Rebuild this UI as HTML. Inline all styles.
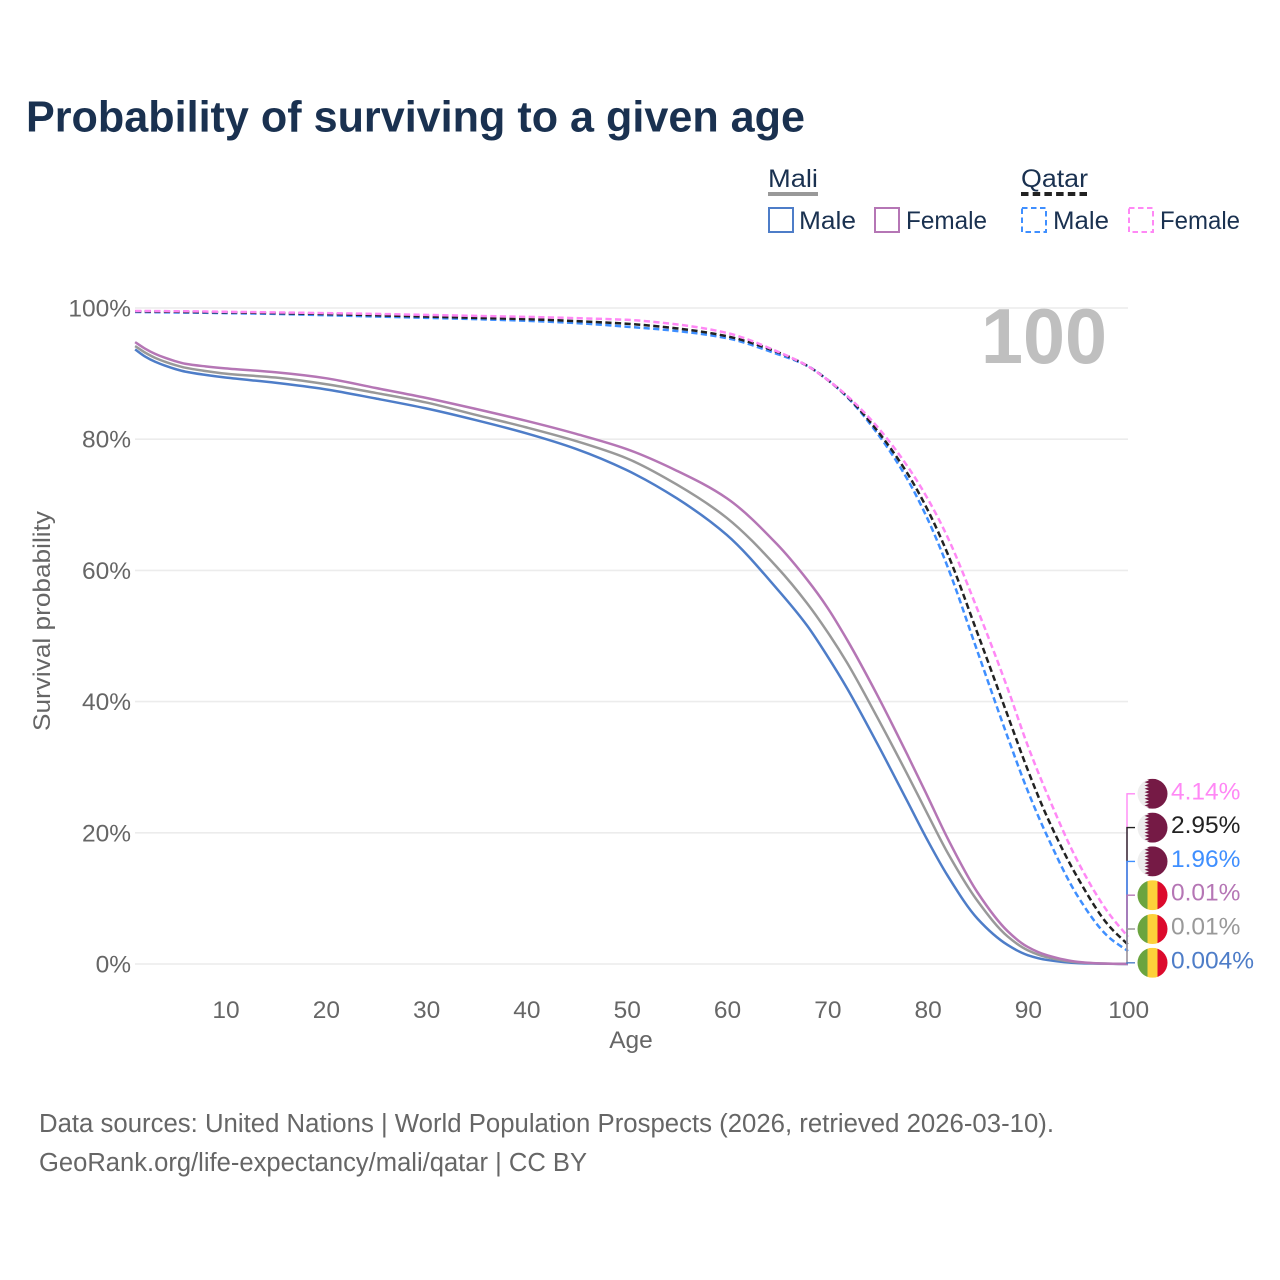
<!DOCTYPE html>
<html lang="en">
<head>
<meta charset="utf-8">
<title>Probability of surviving to a given age</title>
<style>
html,body{margin:0;padding:0;background:#fff;}
svg{display:block;font-family:"Liberation Sans",sans-serif;}
</style>
</head>
<body>
<svg id="chart" width="1280" height="1280" viewBox="0 0 1280 1280">
  <defs>
    <clipPath id="flag-clip"><circle cx="0" cy="0" r="15"></circle></clipPath>
  </defs>
  <text x="26" y="131.5" font-size="44" font-weight="700" fill="#1a3150" textLength="779" lengthAdjust="spacingAndGlyphs">Probability of surviving to a given age</text>

  <g>
    <text x="768" y="187" font-size="25" fill="#1a3150" textLength="50" lengthAdjust="spacingAndGlyphs">Mali</text>
    <line x1="768" y1="194" x2="818" y2="194" stroke="#999999" stroke-width="4"></line>
    <text x="1021" y="187" font-size="25" fill="#1a3150" textLength="67" lengthAdjust="spacingAndGlyphs">Qatar</text>
    <line x1="1021" y1="194" x2="1088" y2="194" stroke="#222222" stroke-width="4" stroke-dasharray="7.5 4.2"></line>

    <rect x="769" y="208" width="24" height="24" fill="none" stroke="#4e7dc8" stroke-width="2"></rect>
    <text x="799" y="229" font-size="25" fill="#1a3150" textLength="57" lengthAdjust="spacingAndGlyphs">Male</text>
    <rect x="875" y="208" width="24" height="24" fill="none" stroke="#b576b5" stroke-width="2"></rect>
    <text x="906" y="229" font-size="25" fill="#1a3150" textLength="81" lengthAdjust="spacingAndGlyphs">Female</text>

    <rect x="1022" y="208" width="24" height="24" fill="none" stroke="#3f8fff" stroke-width="2" stroke-dasharray="5.5 3.5"></rect>
    <text x="1053" y="229" font-size="25" fill="#1a3150" textLength="56" lengthAdjust="spacingAndGlyphs">Male</text>
    <rect x="1129" y="208" width="24" height="24" fill="none" stroke="#ff88f5" stroke-width="2" stroke-dasharray="5.5 3.5"></rect>
    <text x="1160" y="229" font-size="25" fill="#1a3150" textLength="80" lengthAdjust="spacingAndGlyphs">Female</text>
  </g>

  <g id="grid"></g>
  <g id="y-ticks"></g>
  <g id="x-ticks"></g>

  <text x="1044" y="363" font-size="78" font-weight="700" fill="#bfbfbf" text-anchor="middle" textLength="126" lengthAdjust="spacingAndGlyphs">100</text>

  <g id="series"></g>
  <g id="connectors"></g>
  <g id="end-labels"></g>

  <text x="631" y="1048" font-size="24.5" fill="#666666" text-anchor="middle">Age</text>
  <text transform="translate(50,621) rotate(-90)" font-size="24.5" fill="#666666" text-anchor="middle" textLength="220" lengthAdjust="spacingAndGlyphs">Survival probability</text>

  <text x="39" y="1132" font-size="25.5" fill="#666666" textLength="1015" lengthAdjust="spacingAndGlyphs">Data sources: United Nations | World Population Prospects (2026, retrieved 2026-03-10).</text>
  <text x="39" y="1171" font-size="25.5" fill="#666666" textLength="548" lengthAdjust="spacingAndGlyphs">GeoRank.org/life-expectancy/mali/qatar | CC BY</text>
</svg>

<script>
const ages = [1,2,3,4,5,6,8,10,15,20,25,30,35,40,45,50,55,60,65,68,70,72,75,78,80,82,85,88,90,92,95,98,100];
const maliMale = [93.7,92.6,91.8,91.2,90.7,90.3,89.8,89.4,88.6,87.6,86.2,84.7,82.9,80.9,78.5,75.3,71.0,65.4,57.2,51.6,47.0,42.0,33.6,24.8,18.9,13.5,6.9,2.9,1.35,0.6,0.13,0.03,0.004];
const maliBoth = [94.2,93.2,92.4,91.8,91.3,90.9,90.4,90.0,89.4,88.4,87.05,85.6,83.7,81.8,79.7,77.1,73.1,68.0,60.5,55.0,50.7,45.9,37.6,28.9,22.9,17.0,9.6,4.2,2.1,1.0,0.25,0.05,0.01];
const maliFemale = [94.8,93.8,93.0,92.4,91.9,91.5,91.1,90.8,90.2,89.3,87.8,86.3,84.6,82.8,80.8,78.5,75.2,71.0,64.0,58.6,54.4,49.4,41.0,31.9,25.6,19.2,10.9,5.0,2.6,1.3,0.33,0.05,0.01];
const qatarMale = [99.4,99.38,99.36,99.34,99.32,99.3,99.27,99.22,99.1,98.9,98.7,98.5,98.3,98.05,97.7,97.15,96.5,95.4,93.0,91.2,89.1,86.4,80.9,73.9,67.9,60.6,47.6,34.6,26.4,19.3,10.3,4.2,1.96];
const qatarBoth = [99.48,99.46,99.45,99.43,99.42,99.4,99.37,99.33,99.22,99.08,98.9,98.7,98.5,98.3,98.0,97.6,96.9,95.7,93.3,91.2,89.1,86.5,81.3,74.8,69.3,62.6,50.4,37.9,29.6,22.2,13.1,6.0,2.95];
const qatarFemale = [99.55,99.54,99.53,99.52,99.5,99.5,99.46,99.42,99.33,99.22,99.1,98.95,98.8,98.65,98.45,98.2,97.5,96.2,93.4,91.2,89.1,86.6,81.9,75.9,71.0,65.1,54.0,42.0,33.3,25.7,15.6,7.9,4.14];
const xTickValues = [10,20,30,40,50,60,70,80,90,100];
const yTickValues = [0,20,40,60,80,100];
const endLabelTexts = ["4.14%","2.95%","1.96%","0.01%","0.01%","0.004%"];

const NS = "http://www.w3.org/2000/svg";
const xScale = a => 135.1 + (a - 1) * (1128 - 135.1) / 99;
const yScale = v => 964 - v * 6.56;

function make(tag, parent, attrs) {
  const el = document.createElementNS(NS, tag);
  for (const k in attrs) el.setAttribute(k, attrs[k]);
  parent.appendChild(el);
  return el;
}

/* Monotone cubic path through the data points */
function linePath(xs, ys) {
  const n = xs.length, d = [], m = [];
  for (let i = 0; i < n - 1; i++) d.push((ys[i + 1] - ys[i]) / (xs[i + 1] - xs[i]));
  m.push(d[0]);
  for (let i = 1; i < n - 1; i++) {
    if (d[i - 1] * d[i] <= 0) { m.push(0); continue; }
    const h0 = xs[i] - xs[i - 1], h1 = xs[i + 1] - xs[i];
    m.push(3 * (h0 + h1) / ((2 * h1 + h0) / d[i - 1] + (h1 + 2 * h0) / d[i]));
  }
  m.push(d[n - 2]);
  let p = "M" + xs[0].toFixed(2) + " " + ys[0].toFixed(2);
  for (let i = 0; i < n - 1; i++) {
    const h = (xs[i + 1] - xs[i]) / 3;
    p += "C" + (xs[i] + h).toFixed(2) + " " + (ys[i] + m[i] * h).toFixed(2) + " " +
         (xs[i + 1] - h).toFixed(2) + " " + (ys[i + 1] - m[i + 1] * h).toFixed(2) + " " +
         xs[i + 1].toFixed(2) + " " + ys[i + 1].toFixed(2);
  }
  return p;
}

const gridG = document.getElementById("grid");
const yTickG = document.getElementById("y-ticks");
const xTickG = document.getElementById("x-ticks");
const seriesG = document.getElementById("series");
const connG = document.getElementById("connectors");
const endG = document.getElementById("end-labels");

yTickValues.forEach(v => {
  const gl = make("line", gridG, {x1: 135, x2: 1128, y1: yScale(v), y2: yScale(v), stroke: "#ececec", "stroke-width": 1.6});
  
  
  const t = make("text", yTickG, {x: 131, y: yScale(v) + 8.5, "font-size": 24.5, fill: "#666666", "text-anchor": "end"});
  t.textContent = v + "%";
  
  
});

xTickValues.forEach(a => {
  const t = make("text", xTickG, {x: xScale(a) + 0.7, y: 1018, "font-size": 24.5, fill: "#666666", "text-anchor": "middle"});
  t.textContent = a;
  
  
});

const seriesList = [
  {key: "mali-male", values: maliMale, color: "#4e7dc8", dash: null},
  {key: "mali-both", values: maliBoth, color: "#999999", dash: null},
  {key: "mali-female", values: maliFemale, color: "#b576b5", dash: null},
  {key: "qatar-male", values: qatarMale, color: "#3f8fff", dash: "6.2 3.4"},
  {key: "qatar-both", values: qatarBoth, color: "#222222", dash: "6.2 3.4"},
  {key: "qatar-female", values: qatarFemale, color: "#ff88f5", dash: "6.2 3.4"}
];

const xs = ages.map(xScale);
seriesList.forEach(s => {
  const path = make("path", seriesG, {d: linePath(xs, s.values.map(yScale)), fill: "none", stroke: s.color, "stroke-width": 2.5, "stroke-linejoin": "round"});
  if (s.dash) path.setAttribute("stroke-dasharray", s.dash);
  
  
});

/* end labels stacked bottom-up, highest series on top */
const endOrder = [
  {s: seriesList[5], flag: "qatar"},
  {s: seriesList[4], flag: "qatar"},
  {s: seriesList[3], flag: "qatar"},
  {s: seriesList[2], flag: "mali"},
  {s: seriesList[1], flag: "mali"},
  {s: seriesList[0], flag: "mali"}
];

function drawFlag(parent, kind, cy) {
  const g = make("g", parent, {transform: "translate(1152.5," + cy + ")", "clip-path": "url(#flag-clip)"});
  
  
  if (kind === "mali") {
    make("rect", g, {x: -15, y: -15, width: 10, height: 30, fill: "#6ba43f"});
    make("rect", g, {x: -5, y: -15, width: 10, height: 30, fill: "#fdd13a"});
    make("rect", g, {x: 5, y: -15, width: 10, height: 30, fill: "#dc0a2c"});
  } else {
    make("rect", g, {x: -15, y: -15, width: 30, height: 30, fill: "#eeeeee"});
    let pts = "15,-15 -8,-15";
    for (let i = 0; i < 9; i++) {
      const top = -15 + i * 30 / 9;
      pts += " -3.5," + (top + 15 / 9).toFixed(2) + " -8," + (top + 30 / 9).toFixed(2);
    }
    pts += " 15,15";
    make("polygon", g, {points: pts, fill: "#751a45"});
  }
}

endOrder.forEach((e, i) => {
  const cy = 793.8 + i * 33.8;
  const valY = yScale(e.s.values[e.s.values.length - 1]);
  const conn = make("path", connG, {d: "M1135 " + cy + "H1127V" + valY, fill: "none", stroke: e.s.color, "stroke-width": 1.4});
  
  
  drawFlag(endG, e.flag, cy);
  const t = make("text", endG, {x: 1171, y: cy + 5.5, "font-size": 24.5, fill: e.s.color});
  t.textContent = endLabelTexts[i];
  
  
});
</script>
</body>
</html>
